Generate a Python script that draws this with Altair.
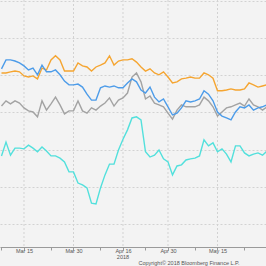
import altair as alt
import pandas as pd

# trading-day index (0 = Mar 8 2018, weekdays)
day_index = list(range(60))

blue = [41.7, 44.1, 44.1, 43.8, 43.3, 42.5, 41.4, 41.9, 40.1, 42.7,
        40.9, 40.9, 41.4, 40.1, 38.4, 37.4, 37.4, 37.6, 36.8, 34.9,
        33.3, 33.3, 36.6, 37.1, 36.8, 37.1, 36.6, 36.6, 37.9, 39.0,
        38.2, 36.0, 35.2, 36.8, 34.1, 32.8, 33.6, 31.5, 29.3, 29.8,
        31.2, 33.1, 32.8, 33.1, 33.6, 35.8, 34.9, 33.1, 30.1, 29.0,
        28.5, 28.0, 30.1, 31.5, 31.2, 32.0, 30.6, 31.2, 31.5, 32.0]

orange = [40.6, 40.6, 40.9, 41.1, 40.9, 39.8, 39.5, 39.8, 39.0, 41.9,
          41.4, 44.1, 45.2, 44.1, 41.1, 41.1, 41.1, 43.3, 42.5, 42.2,
          41.1, 42.2, 42.7, 43.3, 45.2, 42.7, 43.8, 44.1, 44.1, 44.4,
          43.5, 42.2, 41.1, 41.7, 40.6, 40.1, 40.9, 39.5, 37.9, 38.2,
          39.0, 39.2, 39.5, 39.2, 39.2, 40.6, 40.1, 39.2, 35.8, 35.8,
          36.0, 36.3, 36.0, 36.0, 36.3, 37.9, 37.4, 36.8, 37.1, 37.4]

gray = [31.7, 33.1, 32.3, 33.1, 32.5, 31.2, 30.4, 30.1, 28.8, 33.1,
        30.6, 32.3, 34.1, 32.0, 29.6, 30.4, 30.4, 33.1, 30.4, 29.8,
        31.2, 30.6, 31.7, 32.5, 33.9, 31.7, 33.3, 33.9, 35.2, 39.5,
        40.6, 38.2, 33.6, 34.4, 32.5, 32.0, 31.5, 29.8, 28.2, 30.6,
        32.0, 31.5, 31.5, 31.5, 32.0, 34.1, 33.1, 31.5, 29.0, 30.1,
        31.2, 31.5, 32.0, 32.5, 31.7, 33.6, 32.0, 31.5, 30.6, 31.5]

cyan = [18.3, 22.0, 18.5, 20.4, 20.4, 20.2, 21.2, 20.4, 19.4, 20.7,
        19.6, 18.3, 18.3, 17.7, 16.7, 14.0, 14.0, 11.0, 10.5, 9.7,
        5.6, 5.4, 9.7, 13.2, 16.1, 16.1, 19.9, 22.8, 25.3, 28.5,
        28.8, 28.0, 19.4, 18.0, 18.5, 19.9, 17.5, 16.7, 13.2, 15.6,
        15.9, 17.2, 17.5, 17.7, 18.3, 22.6, 21.0, 21.8, 19.4, 20.2,
        18.8, 16.7, 21.0, 21.0, 19.1, 18.3, 18.8, 19.1, 18.5, 19.6]

series_names = ["Cyan", "Gray", "Orange", "Blue"]
series_values = [cyan, gray, orange, blue]
series_colors = ["#52e0dc", "#a3a3a3", "#f5a531", "#4d9ce9"]

tick_idx = [0, 5, 11, 16, 22, 27, 32, 37, 43, 48, 54, 60]
major_idx = [5, 16, 27, 37, 48, 60]
major_labels = ["Mar 15", "Mar 30", "Apr 16", "Apr 30", "May 15", "May 31"]
y_grid = [0, 10, 20, 30, 40, 50, 60]

year_label = ["2018"]
year_idx = [27]
copyright_text = ["Copyright\u00a9 2018 Bloomberg Finance L.P."]

BG = "#f3f3f3"
GRID = "#d2d2d2"
FONT = "Liberation Sans"

label_expr = ""
for i, lab in zip(major_idx, major_labels):
    label_expr += f"datum.value == {i} ? '{lab}' : "
label_expr += "''"

x_scale = alt.Scale(domain=[-0.333, 58.78], nice=False, zero=False)
y_scale = alt.Scale(domain=[-6.18, 60.2], nice=False, zero=False)

x_axis = alt.Axis(values=tick_idx, labelExpr=label_expr, grid=False,
                  tickSize=3, tickColor="#9a9a9a", domainColor="#9a9a9a",
                  labelFontSize=5.5, labelColor="#555555", labelFont=FONT,
                  labelPadding=-1.5, labelFlush=False, labelOverlap=False,
                  labelBound=False, title=None)
y_axis = alt.Axis(values=y_grid, labels=False, ticks=False, domain=False,
                  grid=True, gridColor=GRID, gridDash=[2, 2], gridWidth=1,
                  title=None)

vgrid = alt.Chart(pd.DataFrame({"day": major_idx})).mark_rule(
    color=GRID, strokeDash=[2, 2], strokeWidth=1, clip=True
).encode(x=alt.X("day:Q", scale=x_scale, axis=x_axis))

layers = [vgrid]
for name, vals, col in zip(series_names, series_values, series_colors):
    d = pd.DataFrame({"day": day_index, "value": vals})
    layers.append(
        alt.Chart(d).mark_line(color=col, strokeWidth=1.4, clip=True).encode(
            x=alt.X("day:Q", scale=x_scale, axis=x_axis),
            y=alt.Y("value:Q", scale=y_scale, axis=y_axis),
        )
    )

year_text = alt.Chart(pd.DataFrame({"day": year_idx, "t": year_label})).mark_text(
    fontSize=5.5, color="#555555", font=FONT, align="center", baseline="middle"
).encode(x=alt.X("day:Q", scale=x_scale, axis=x_axis), y=alt.value(257), text="t:N")
layers.append(year_text)

copy_text = alt.Chart(pd.DataFrame({"t": copyright_text})).mark_text(
    fontSize=5.5, color="#555555", font=FONT, align="center", baseline="middle"
).encode(x=alt.value(189), y=alt.value(263), text="t:N")
layers.append(copy_text)

chart = alt.layer(*layers).properties(
    width=266, height=247,
    autosize=alt.AutoSizeParams(type="none"),
    padding={"left": 0, "right": 0, "top": 0, "bottom": 19},
    background=BG,
).configure_view(strokeWidth=0, fill=BG)

chart.save("out.html", embed_options={"renderer": "svg", "actions": False})
